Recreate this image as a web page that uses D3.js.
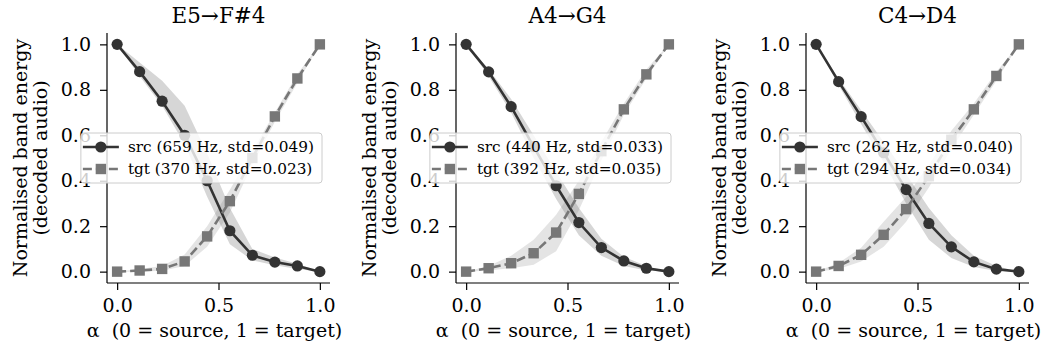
<!DOCTYPE html>
<html>
<head>
<meta charset="utf-8">
<script src="https://cdn.jsdelivr.net/npm/d3@7"></script>
<style>
  body { margin: 0; background: #fff; }
  svg { display: block; font-family: "DejaVu Serif", serif; }
</style>
</head>
<body>
<svg id="chart" width="1056" height="352"></svg>
<script>
'use strict';

// alpha grid (10 steps from source to target)
const alpha = [0, 0.111, 0.222, 0.333, 0.444, 0.556, 0.667, 0.778, 0.889, 1.0];

const titles = ['E5\u2192F#4', 'A4\u2192G4', 'C4\u2192D4'];
const srcLabels = ['src (659 Hz, std=0.049)', 'src (440 Hz, std=0.033)', 'src (262 Hz, std=0.040)'];
const tgtLabels = ['tgt (370 Hz, std=0.023)', 'tgt (392 Hz, std=0.035)', 'tgt (294 Hz, std=0.034)'];

// E5 -> F#4
const srcE5 = [1.0, 0.88, 0.75, 0.60, 0.40, 0.18, 0.072, 0.042, 0.025, 0.0];
const srcE5Lo = [1.0, 0.86, 0.73, 0.56, 0.33, 0.12, 0.05, 0.028, 0.012, 0.0];
const srcE5Hi = [1.0, 0.92, 0.84, 0.73, 0.52, 0.28, 0.10, 0.062, 0.035, 0.0];
const tgtF4 = [0.0, 0.005, 0.012, 0.045, 0.155, 0.31, 0.50, 0.683, 0.85, 1.0];
const tgtF4Lo = [0.0, 0.0, 0.004, 0.025, 0.11, 0.26, 0.47, 0.66, 0.83, 1.0];
const tgtF4Hi = [0.0, 0.012, 0.025, 0.075, 0.20, 0.36, 0.53, 0.70, 0.87, 1.0];

// A4 -> G4
const srcA4 = [1.0, 0.879, 0.726, 0.55, 0.378, 0.216, 0.106, 0.047, 0.015, 0.0];
const srcA4Lo = [1.0, 0.86, 0.70, 0.50, 0.32, 0.16, 0.07, 0.025, 0.005, 0.0];
const srcA4Hi = [1.0, 0.89, 0.76, 0.60, 0.44, 0.28, 0.145, 0.065, 0.025, 0.0];
const tgtG4 = [0.0, 0.015, 0.037, 0.081, 0.172, 0.342, 0.53, 0.714, 0.868, 1.0];
const tgtG4Lo = [0.0, 0.005, 0.015, 0.03, 0.09, 0.27, 0.49, 0.69, 0.85, 1.0];
const tgtG4Hi = [0.0, 0.025, 0.07, 0.14, 0.25, 0.40, 0.57, 0.74, 0.89, 1.0];

// C4 -> D4
const srcC4 = [1.0, 0.836, 0.682, 0.523, 0.361, 0.212, 0.109, 0.043, 0.011, 0.0];
const srcC4Lo = [1.0, 0.82, 0.65, 0.48, 0.30, 0.14, 0.06, 0.02, 0.003, 0.0];
const srcC4Hi = [1.0, 0.85, 0.71, 0.57, 0.43, 0.28, 0.16, 0.07, 0.025, 0.0];
const tgtD4 = [0.0, 0.025, 0.074, 0.162, 0.275, 0.42, 0.58, 0.714, 0.861, 1.0];
const tgtD4Lo = [0.0, 0.012, 0.045, 0.11, 0.22, 0.37, 0.54, 0.69, 0.84, 1.0];
const tgtD4Hi = [0.0, 0.038, 0.105, 0.22, 0.33, 0.47, 0.62, 0.74, 0.88, 1.0];

const yTicks = [0.0, 0.2, 0.4, 0.6, 0.8, 1.0];
const xTicks = [0.0, 0.5, 1.0];

const panels = [
	{title: titles[0], src: [srcE5, srcE5Lo, srcE5Hi], tgt: [tgtF4, tgtF4Lo, tgtF4Hi], labels: [srcLabels[0], tgtLabels[0]]},
	{title: titles[1], src: [srcA4, srcA4Lo, srcA4Hi], tgt: [tgtG4, tgtG4Lo, tgtG4Hi], labels: [srcLabels[1], tgtLabels[1]]},
	{title: titles[2], src: [srcC4, srcC4Lo, srcC4Hi], tgt: [tgtD4, tgtD4Lo, tgtD4Hi], labels: [srcLabels[2], tgtLabels[2]]},
];

const srcColour = '#333333';
const tgtColour = '#777777';
const lw = 2.6;
const dash = '9,4';

const axLeft = [107, 456, 806];
const axWidth = 223;
const axTop = 33;
const axBottom = 283;

const svg = d3.select('#chart');

panels.forEach((p, i) => {
	const x = d3.scaleLinear().domain([-0.05, 1.05]).range([axLeft[i], axLeft[i] + axWidth]);
	const y = d3.scaleLinear().domain([-0.05, 1.05]).range([axBottom, axTop]);
	const g = svg.append('g');

	// bands (drawn under the lines)
	const area = d3.area()
		.x((d, k) => x(alpha[k]))
		.y0(d => y(d[0]))
		.y1(d => y(d[1]));
	[[p.src, srcColour], [p.tgt, tgtColour]].forEach(([s, c]) => {
		const pts = s[1].map((lo, k) => [lo, s[2][k]]);
		g.append('path')
			.attr('d', area(pts))
			.attr('fill', c)
			.attr('fill-opacity', 0.2)
			.attr('stroke', 'none');
	});

	const line = d3.line()
		.x((d, k) => x(alpha[k]))
		.y(d => y(d));

	// src
	g.append('path')
		.attr('d', line(p.src[0]))
		.attr('fill', 'none')
		.attr('stroke', srcColour)
		.attr('stroke-width', lw);
	g.selectAll('circle.src').data(p.src[0]).enter().append('circle')
		.attr('class', 'src')
		.attr('cx', (d, k) => x(alpha[k]))
		.attr('cy', d => y(d))
		.attr('r', 5.6)
		.attr('fill', srcColour);

	// tgt
	g.append('path')
		.attr('d', line(p.tgt[0]))
		.attr('fill', 'none')
		.attr('stroke', tgtColour)
		.attr('stroke-width', lw)
		.attr('stroke-dasharray', dash);
	g.selectAll('rect.tgt').data(p.tgt[0]).enter().append('rect')
		.attr('class', 'tgt')
		.attr('x', (d, k) => x(alpha[k]) - 5.2)
		.attr('y', d => y(d) - 5.2)
		.attr('width', 10.4)
		.attr('height', 10.4)
		.attr('fill', tgtColour);

	// axes
	const yAxis = g.append('g')
		.attr('transform', `translate(${axLeft[i]},0)`)
		.call(d3.axisLeft(y).tickValues(yTicks).tickFormat(d3.format('.1f')).tickSize(7).tickPadding(9));
	const xAxis = g.append('g')
		.attr('transform', `translate(0,${axBottom})`)
		.call(d3.axisBottom(x).tickValues(xTicks).tickFormat(d3.format('.1f')).tickSize(7).tickPadding(8.5));
	[yAxis, xAxis].forEach(a => {
		a.select('.domain').attr('stroke', '#000').attr('stroke-width', 1.2);
		a.selectAll('.tick line').attr('stroke', '#000').attr('stroke-width', 1.2);
		a.selectAll('.tick text').attr('font-size', 19).attr('font-family', '"DejaVu Serif", serif').attr('fill', '#000');
	});
	// matplotlib-like spines: no end caps
	yAxis.select('.domain').attr('d', `M0,${axBottom}V${axTop}`);
	xAxis.select('.domain').attr('d', `M${axLeft[i]},0H${axLeft[i] + axWidth}`);

	// title
	g.append('text')
		.attr('x', axLeft[i] + axWidth / 2)
		.attr('y', 23)
		.attr('text-anchor', 'middle')
		.attr('font-size', 21.5)
		.text(p.title);

	// x label
	g.append('text')
		.attr('x', axLeft[i] + axWidth / 2 - 4)
		.attr('y', 337)
		.attr('text-anchor', 'middle')
		.attr('font-size', 19)
		.attr('xml:space', 'preserve')
		.text('\u03b1  (0 = source, 1 = target)');

	// y label, two lines
	const ylab = g.append('text')
		.attr('transform', `translate(${axLeft[i] - 80},${(axTop + axBottom) / 2}) rotate(-90)`)
		.attr('text-anchor', 'middle')
		.attr('font-size', 19);
	ylab.append('tspan').attr('x', 0).attr('dy', 0).text('Normalised band energy');
	ylab.append('tspan').attr('x', 0).attr('dy', 20).text('(decoded audio)');

	// legend, centre right
	const leg = g.append('g');
	const box = leg.append('rect');
	const texts = p.labels.map((lab, k) => leg.append('text')
		.attr('font-size', 15.3)
		.attr('dy', '0.35em')
		.text(lab));
	const tw = d3.max(texts, t => t.node().getComputedTextLength());
	const boxW = 47 + tw + 8;
	const boxH = 50;
	const bx = axLeft[i] + axWidth - 8 - boxW;
	const by = (axTop + axBottom) / 2 - boxH / 2;
	box.attr('x', bx).attr('y', by).attr('width', boxW).attr('height', boxH)
		.attr('rx', 3)
		.attr('fill', '#fff').attr('fill-opacity', 0.8)
		.attr('stroke', '#cccccc').attr('stroke-width', 1);
	const rows = [by + 14, by + 36];
	texts.forEach((t, k) => t.attr('x', bx + 47).attr('y', rows[k]));
	leg.append('line')
		.attr('x1', bx + 2).attr('x2', bx + 38).attr('y1', rows[0]).attr('y2', rows[0])
		.attr('stroke', srcColour).attr('stroke-width', lw);
	leg.append('circle').attr('cx', bx + 20).attr('cy', rows[0]).attr('r', 5.6).attr('fill', srcColour);
	leg.append('line')
		.attr('x1', bx + 2).attr('x2', bx + 38).attr('y1', rows[1]).attr('y2', rows[1])
		.attr('stroke', tgtColour).attr('stroke-width', lw).attr('stroke-dasharray', dash);
	leg.append('rect').attr('x', bx + 20 - 5.2).attr('y', rows[1] - 5.2).attr('width', 10.4).attr('height', 10.4).attr('fill', tgtColour);
});
</script>
</body>
</html>
